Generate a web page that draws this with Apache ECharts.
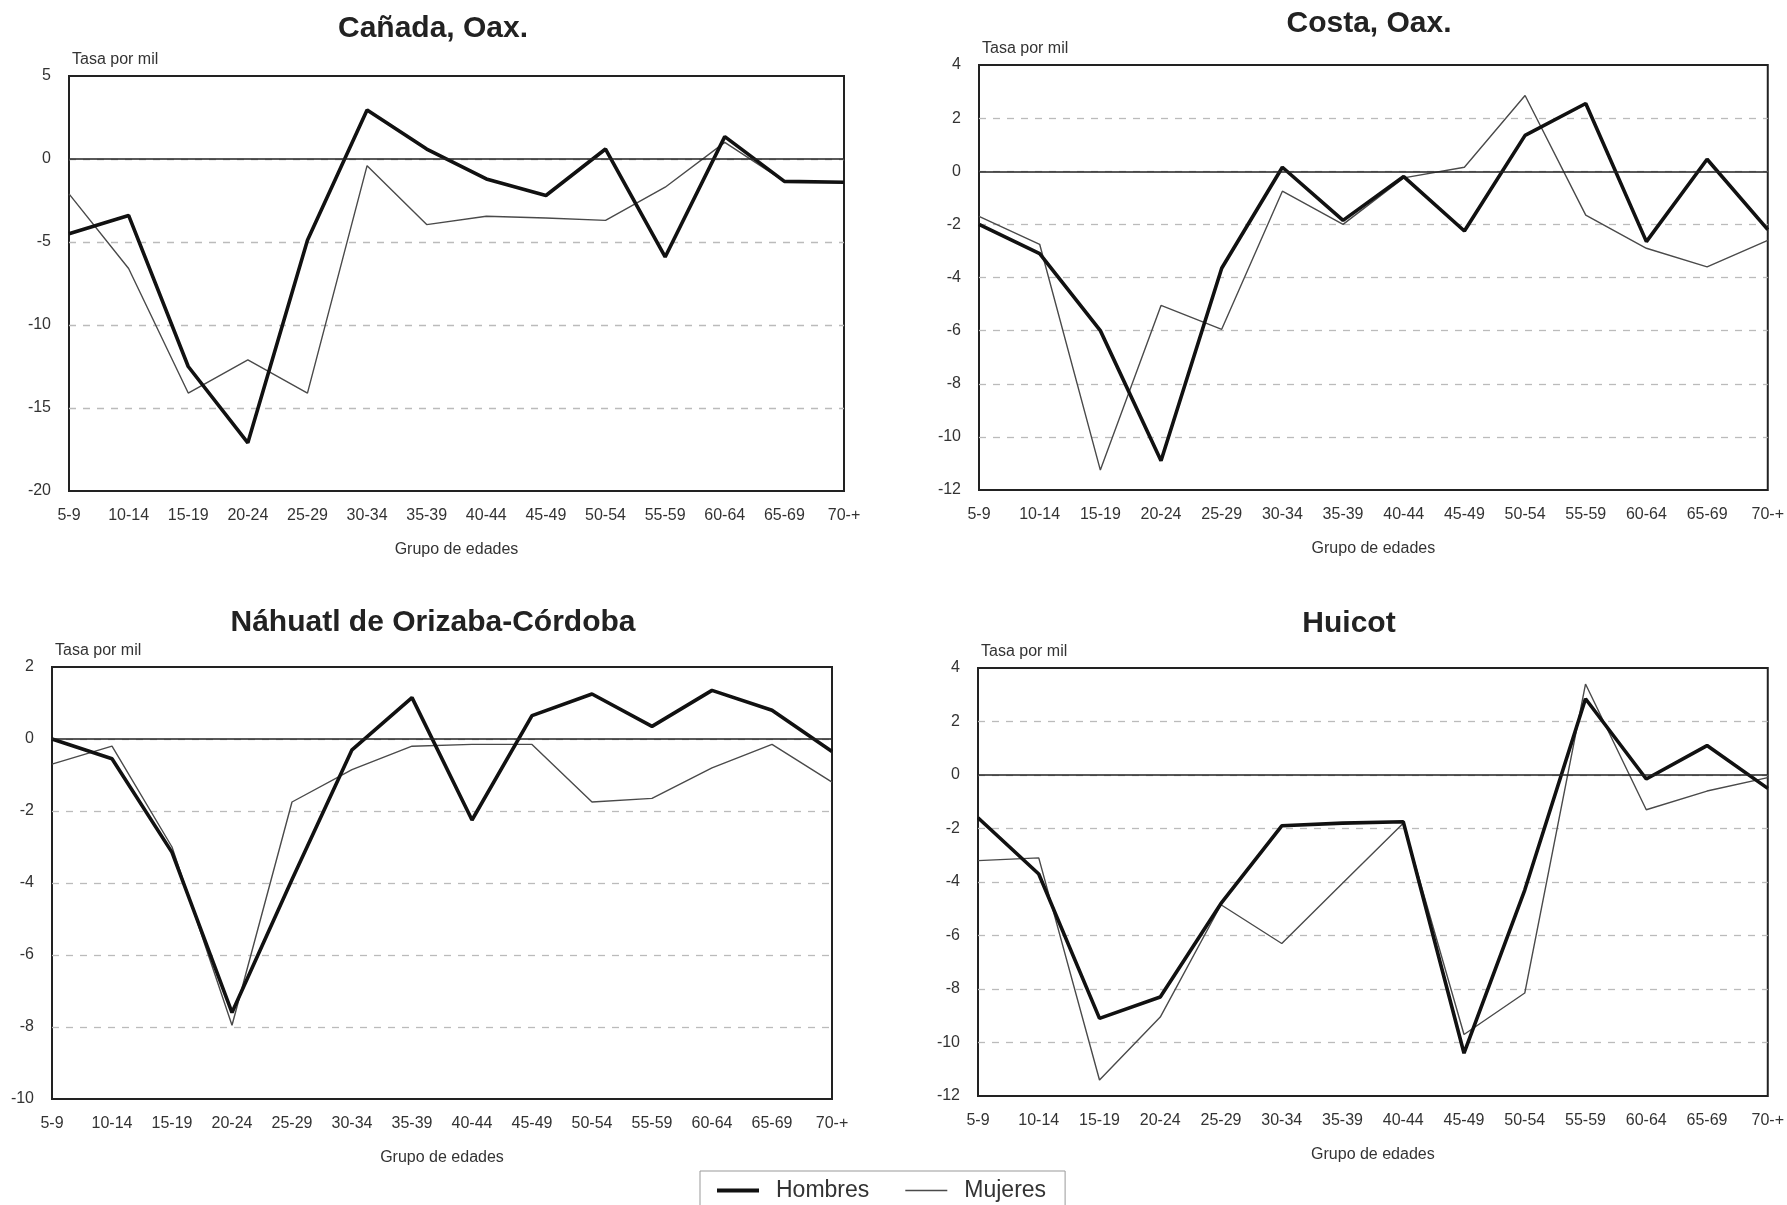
<!DOCTYPE html>
<html>
<head>
<meta charset="utf-8">
<script src="https://cdn.jsdelivr.net/npm/echarts@6/dist/echarts.min.js"></script>
<style>
html,body{margin:0;padding:0;background:#fff;}
#chart{width:1787px;height:1205px;}
</style>
</head>
<body>
<div id="chart"></div>
<script>
// ---- data ----
var categories = ['5-9','10-14','15-19','20-24','25-29','30-34','35-39','40-44','45-49','50-54','55-59','60-64','65-69','70-+'];
var panelTitles = ['Cañada, Oax.', 'Costa, Oax.', 'Náhuatl de Orizaba-Córdoba', 'Huicot'];
var seriesNames = ['Hombres', 'Mujeres'];
var yAxisName = 'Tasa por mil';
var xAxisName = 'Grupo de edades';

var canadaHombres = [-4.5, -3.4, -12.5, -17.1, -4.9, 2.95, 0.6, -1.2, -2.2, 0.6, -5.9, 1.35, -1.35, -1.4];
var canadaMujeres = [-2.1, -6.6, -14.1, -12.1, -14.1, -0.4, -3.95, -3.45, -3.55, -3.7, -1.7, 1.0, -1.35, -1.4];

var costaHombres = [-2.0, -3.1, -6.0, -10.9, -3.65, 0.15, -1.85, -0.2, -2.25, 1.35, 2.55, -2.65, 0.45, -2.2];
var costaMujeres = [-1.7, -2.75, -11.25, -5.05, -5.95, -0.75, -2.0, -0.25, 0.15, 2.85, -1.65, -2.9, -3.6, -2.6];

var nahuatlHombres = [0.0, -0.55, -3.15, -7.6, -3.9, -0.3, 1.15, -2.25, 0.65, 1.25, 0.35, 1.35, 0.8, -0.35];
var nahuatlMujeres = [-0.7, -0.2, -3.0, -7.95, -1.75, -0.85, -0.2, -0.15, -0.15, -1.75, -1.65, -0.8, -0.15, -1.2];

var huicotHombres = [-1.6, -3.7, -9.1, -8.3, -4.8, -1.9, -1.8, -1.75, -10.4, -4.3, 2.85, -0.15, 1.1, -0.5];
var huicotMujeres = [-3.2, -3.1, -11.4, -9.05, -4.85, -6.3, -4.05, -1.8, -9.7, -8.15, 3.4, -1.3, -0.6, -0.1];

var yMin = [-20, -12, -10, -12];
var yMax = [5, 4, 2, 4];
var yInterval = [5, 2, 2, 2];

var hombresData = [canadaHombres, costaHombres, nahuatlHombres, huicotHombres];
var mujeresData = [canadaMujeres, costaMujeres, nahuatlMujeres, huicotMujeres];

// ---- layout ----
var grids = [
  {left: 69, top: 76, width: 775, height: 415},
  {left: 979, top: 65, width: 791, height: 425},
  {left: 52, top: 667, width: 780, height: 432},
  {left: 978, top: 668, width: 792, height: 428}
];
var titlePos = [[433, 14], [1369, 9], [433, 608], [1349, 609]];

var FONT = '"Liberation Sans", Arial, sans-serif';
var TXT = '#333';

var option = {
  animation: false,
  backgroundColor: '#fff',
  textStyle: {fontFamily: FONT},
  title: panelTitles.map(function (t, i) {
    return {
      text: t, left: titlePos[i][0], top: titlePos[i][1], textAlign: 'center', padding: 0,
      textStyle: {fontFamily: FONT, fontSize: 30, fontWeight: 'bold', color: '#222'}
    };
  }),
  legend: {
    data: [
      {name: seriesNames[0], icon: 'path://M0,0H42V4H0Z'},
      {name: seriesNames[1], icon: 'path://M0,0H42V1.4H0Z'}
    ],
    symbolKeepAspect: true,
    left: 700, top: 1171,
    orient: 'horizontal',
    itemWidth: 42, itemHeight: 14, itemGap: 36,
    padding: [8, 19, 24, 17],
    borderColor: '#999', borderWidth: 1,
    itemStyle: {borderWidth: 0},
    textStyle: {fontFamily: FONT, fontSize: 23, color: TXT, padding: [0, 0, 0, 12]}
  },
  grid: grids.map(function (g) {
    return {left: g.left, top: g.top, width: g.width, height: g.height,
      show: true, borderColor: '#222', borderWidth: 2, backgroundColor: 'transparent', containLabel: false};
  }),
  xAxis: grids.map(function (g, i) {
    return {
      type: 'category', gridIndex: i, data: categories, boundaryGap: false,
      axisLine: {show: false}, axisTick: {show: false}, splitLine: {show: false},
      axisLabel: {interval: 0, fontSize: 16, color: TXT, margin: 17, fontFamily: FONT},
      name: xAxisName, nameLocation: 'middle', nameGap: 51,
      nameTextStyle: {fontSize: 16, color: TXT, fontFamily: FONT}
    };
  }),
  yAxis: grids.map(function (g, i) {
    return {
      type: 'value', gridIndex: i, min: yMin[i], max: yMax[i], interval: yInterval[i],
      axisLine: {show: false}, axisTick: {show: false},
      axisLabel: {fontSize: 16, color: TXT, margin: 18, fontFamily: FONT},
      splitLine: {show: true, showMinLine: false, showMaxLine: false,
        lineStyle: {color: '#bbb', width: 1.3, type: [7, 7]}},
      name: yAxisName, nameLocation: 'end', nameGap: 8,
      nameTextStyle: {fontSize: 16, color: TXT, align: 'left', verticalAlign: 'bottom', padding: [0, 0, 0, 3], fontFamily: FONT}
    };
  }),
  series: []
};

for (var i = 0; i < 4; i++) {
  option.series.push({
    name: seriesNames[1], type: 'line', xAxisIndex: i, yAxisIndex: i,
    data: mujeresData[i], symbol: 'none', showSymbol: false,
    lineStyle: {color: '#4a4a4a', width: 1.4}, itemStyle: {color: '#4a4a4a'},
    z: 3,
    markLine: {
      silent: true, symbol: 'none', label: {show: false},
      lineStyle: {color: '#222', width: 1.6, type: 'solid'},
      data: [{yAxis: 0}]
    }
  });
  option.series.push({
    name: seriesNames[0], type: 'line', xAxisIndex: i, yAxisIndex: i,
    data: hombresData[i], symbol: 'none', showSymbol: false,
    lineStyle: {color: '#111', width: 3.6}, itemStyle: {color: '#111'},
    z: 4
  });
}

var chart = echarts.init(document.getElementById('chart'), null, {renderer: 'canvas'});
chart.setOption(option);
</script>
</body>
</html>
